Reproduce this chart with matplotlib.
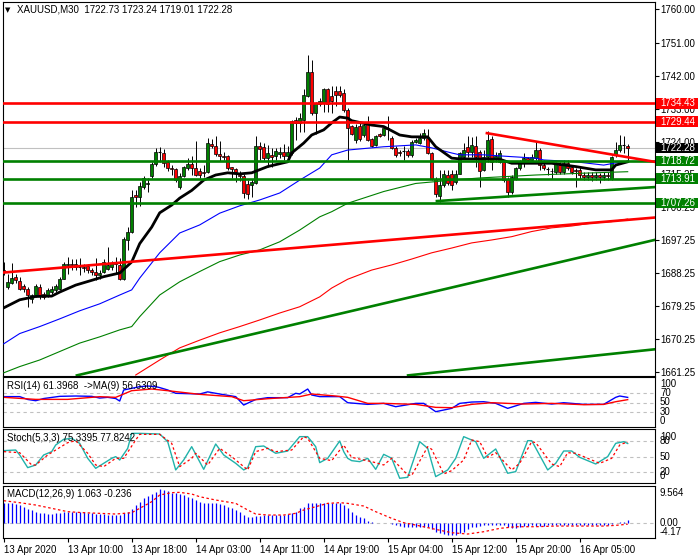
import matplotlib
matplotlib.use("Agg")
import matplotlib.pyplot as plt
from matplotlib.patches import Rectangle
from matplotlib.transforms import blended_transform_factory
import numpy as np

plt.rcParams['font.family'] = ['Liberation Sans', 'DejaVu Sans']

# ---- candles (M30 bars, index 0 = 13 Apr 2020 first bar) ----
opens = [
    1689.1, 1684.4, 1685.6, 1687.1, 1685.9, 1684.6, 1683.9, 1681.2, 1682.3, 1684.4,
    1682.5, 1682.1, 1683.1, 1683.5, 1683.9, 1686.7, 1690.4, 1690.6, 1690.6, 1689.9,
    1689.8, 1690.1, 1689.1, 1688.5, 1687.6, 1688.5, 1689.4, 1689.8, 1690.8, 1690.4,
    1686.7, 1697.2, 1699.5, 1709.4, 1709.0, 1711.7, 1712.4, 1714.5, 1717.9, 1721.2,
    1721.0, 1718.4, 1716.9, 1716.5, 1711.7, 1714.5, 1716.8, 1718.0, 1716.8, 1715.9,
    1715.7, 1715.6, 1723.4, 1722.8, 1720.7, 1720.0, 1720.0, 1717.0, 1716.5, 1715.0,
    1714.5, 1712.5, 1712.1, 1712.7, 1722.8, 1722.6, 1719.4, 1720.3, 1720.1, 1720.6,
    1721.3, 1720.2, 1720.8, 1729.9, 1729.0, 1729.9, 1736.5, 1742.9, 1731.7, 1734.2,
    1734.5, 1738.2, 1736.5, 1737.7, 1737.7, 1737.2, 1732.6, 1728.2, 1724.4, 1728.3,
    1725.9, 1728.8, 1724.7, 1723.1, 1726.0, 1725.9, 1727.6, 1724.9, 1722.2, 1721.3,
    1721.5, 1721.4, 1720.3, 1724.0, 1723.6, 1724.9, 1724.9, 1720.8, 1713.9, 1709.3,
    1712.1, 1714.9, 1715.3, 1713.0, 1715.3, 1719.9, 1722.6, 1721.3, 1722.8, 1721.3,
    1716.3, 1719.9, 1724.7, 1719.3, 1718.5, 1718.5, 1713.9, 1710.3, 1713.9, 1716.7,
    1718.5, 1719.4, 1719.0, 1719.5, 1721.7, 1717.6, 1716.5, 1716.1, 1715.8, 1717.6,
    1715.8, 1718.1, 1717.1, 1716.2, 1716.4, 1714.9, 1714.3, 1714.9, 1714.3, 1714.8,
    1714.3, 1714.8, 1713.9, 1720.4, 1721.7, 1723.1, 1722.73]
highs = [
    1691.1, 1688.0, 1690.8, 1688.0, 1687.1, 1685.1, 1684.4, 1682.6, 1685.1, 1685.3,
    1683.1, 1684.1, 1684.6, 1685.1, 1687.1, 1691.1, 1692.6, 1692.1, 1692.1, 1692.2,
    1690.6, 1690.6, 1689.6, 1692.2, 1689.1, 1692.1, 1695.4, 1691.6, 1692.6, 1692.2,
    1698.1, 1700.6, 1710.8, 1710.8, 1713.1, 1714.5, 1714.0, 1718.4, 1722.3, 1722.5,
    1722.0, 1719.1, 1717.7, 1716.8, 1715.4, 1717.4, 1719.5, 1720.0, 1724.1, 1716.8,
    1717.7, 1725.0, 1724.6, 1725.5, 1724.1, 1721.1, 1720.4, 1717.2, 1716.8, 1715.9,
    1715.3, 1713.5, 1713.9, 1725.4, 1724.0, 1723.6, 1723.1, 1722.3, 1722.3, 1722.5,
    1723.3, 1722.7, 1730.0, 1730.8, 1731.7, 1738.2, 1747.7, 1746.3, 1734.9, 1735.9,
    1738.6, 1738.7, 1739.1, 1739.1, 1739.1, 1738.2, 1733.1, 1728.5, 1728.7, 1729.2,
    1729.3, 1730.9, 1725.0, 1725.9, 1726.3, 1728.2, 1730.9, 1725.4, 1722.7, 1721.8,
    1722.7, 1721.9, 1724.5, 1724.9, 1726.3, 1727.4, 1727.3, 1721.3, 1714.4, 1716.2,
    1716.2, 1716.4, 1716.2, 1716.4, 1721.3, 1723.6, 1725.4, 1725.3, 1725.4, 1721.7,
    1721.7, 1726.8, 1725.4, 1721.3, 1721.7, 1719.0, 1714.4, 1714.9, 1717.1, 1719.0,
    1720.8, 1719.9, 1720.6, 1724.0, 1722.2, 1719.0, 1717.1, 1716.7, 1718.5, 1718.5,
    1719.0, 1719.0, 1717.6, 1716.7, 1717.1, 1715.8, 1715.8, 1715.8, 1715.8, 1715.5,
    1715.8, 1715.8, 1720.1, 1724.0, 1725.9, 1725.4, 1723.24]
lows = [
    1687.6, 1683.9, 1685.3, 1685.6, 1683.5, 1683.1, 1678.9, 1680.1, 1681.6, 1681.2,
    1681.1, 1681.6, 1682.6, 1683.1, 1683.6, 1686.6, 1688.0, 1689.1, 1689.1, 1687.6,
    1688.6, 1688.1, 1687.6, 1686.2, 1686.6, 1688.1, 1689.0, 1689.1, 1688.0, 1686.2,
    1686.2, 1694.6, 1699.0, 1706.2, 1706.4, 1711.2, 1710.4, 1714.0, 1717.4, 1718.4,
    1717.2, 1715.9, 1714.9, 1713.1, 1711.2, 1714.3, 1716.3, 1714.9, 1714.5, 1714.0,
    1714.3, 1715.4, 1722.3, 1720.0, 1718.6, 1719.1, 1716.3, 1714.0, 1713.1, 1713.4,
    1708.7, 1708.3, 1708.9, 1712.5, 1719.0, 1719.0, 1717.1, 1717.1, 1719.0, 1719.5,
    1719.0, 1718.5, 1720.3, 1724.5, 1726.7, 1726.7, 1736.2, 1731.3, 1726.2, 1733.6,
    1732.2, 1732.2, 1731.7, 1733.6, 1736.2, 1732.2, 1719.0, 1725.8, 1723.7, 1724.3,
    1725.3, 1724.3, 1722.6, 1722.7, 1725.3, 1725.4, 1724.5, 1721.9, 1719.9, 1720.2,
    1719.0, 1719.9, 1719.9, 1723.6, 1723.3, 1724.5, 1720.6, 1713.5, 1708.9, 1707.5,
    1711.6, 1712.1, 1710.7, 1712.5, 1715.1, 1719.4, 1719.9, 1719.9, 1717.2, 1711.6,
    1716.0, 1718.5, 1716.3, 1718.5, 1718.1, 1713.0, 1708.9, 1709.8, 1713.5, 1716.3,
    1717.1, 1718.5, 1718.3, 1719.0, 1716.3, 1716.3, 1714.9, 1713.9, 1715.3, 1715.3,
    1715.3, 1716.2, 1715.3, 1711.6, 1713.9, 1713.5, 1713.5, 1713.3, 1713.5, 1712.7,
    1713.5, 1713.6, 1713.5, 1719.9, 1721.3, 1720.8, 1719.01]
closes = [
    1688.6, 1685.8, 1686.9, 1686.2, 1683.9, 1683.9, 1682.1, 1682.1, 1684.6, 1682.1,
    1681.6, 1683.5, 1683.9, 1684.6, 1686.7, 1690.6, 1690.6, 1690.4, 1689.9, 1689.8,
    1689.6, 1689.0, 1688.5, 1687.6, 1688.3, 1691.3, 1690.4, 1690.8, 1690.6, 1686.7,
    1697.4, 1699.5, 1709.0, 1708.8, 1711.9, 1714.0, 1712.6, 1717.9, 1721.2, 1721.1,
    1718.2, 1716.8, 1716.5, 1713.6, 1714.7, 1717.0, 1718.0, 1716.8, 1715.0, 1715.0,
    1715.4, 1723.5, 1722.8, 1720.5, 1720.0, 1719.8, 1716.8, 1716.6, 1715.8, 1714.5,
    1710.0, 1709.8, 1713.0, 1722.8, 1721.9, 1719.4, 1720.8, 1719.8, 1721.5, 1721.1,
    1720.2, 1721.1, 1729.5, 1729.0, 1730.4, 1736.8, 1742.9, 1731.7, 1734.5, 1735.0,
    1738.2, 1734.2, 1735.0, 1736.8, 1736.8, 1732.7, 1727.6, 1726.2, 1728.1, 1724.8,
    1728.6, 1724.5, 1722.8, 1725.4, 1725.6, 1727.7, 1727.4, 1722.2, 1720.3, 1720.8,
    1721.4, 1720.3, 1724.0, 1724.5, 1725.1, 1726.3, 1720.8, 1713.9, 1709.8, 1712.1,
    1715.3, 1712.6, 1712.1, 1715.3, 1720.8, 1721.7, 1721.3, 1723.1, 1719.9, 1716.0,
    1719.9, 1724.5, 1718.5, 1720.2, 1720.8, 1713.5, 1710.3, 1714.4, 1716.7, 1718.1,
    1719.4, 1719.0, 1719.9, 1721.7, 1717.6, 1716.7, 1716.4, 1715.9, 1718.1, 1715.8,
    1718.1, 1716.7, 1715.8, 1715.9, 1714.9, 1714.3, 1714.9, 1714.3, 1714.8, 1714.3,
    1715.0, 1714.5, 1719.9, 1721.7, 1723.1, 1723.0, 1722.28]

# ---- moving averages (bar index, price) ----
ma_black_x = [0, 4, 8, 12, 14, 18, 22, 25, 29, 32, 34, 37, 39, 42, 44, 47, 50, 53, 56, 59,
              62, 66, 71, 72, 75, 77, 80, 82, 84, 86, 87, 92, 95, 99, 102, 106, 108, 112,
              114, 124, 127, 137, 143, 148, 152, 153, 156]
ma_black_y = [1678.7, 1680.9, 1681.8, 1681.9, 1683.0, 1684.9, 1686.2, 1687.2, 1688.2, 1691.2,
              1696.2, 1700.7, 1704.6, 1706.7, 1708.6, 1710.7, 1713.5, 1714.9, 1715.5, 1715.2,
              1715.5, 1717.2, 1718.5, 1720.9, 1723.6, 1725.8, 1727.2, 1729.1, 1730.7, 1730.4,
              1729.7, 1728.5, 1728.1, 1725.8, 1725.3, 1725.3, 1722.6, 1719.5, 1719.3, 1719.2,
              1718.1, 1718.1, 1717.2, 1716.3, 1716.3, 1717.6, 1718.5]
ma_blue_x = [0, 4, 9, 14, 19, 24, 29, 32, 34, 39, 44, 49, 54, 59, 64, 69, 74, 79, 82, 86,
             95, 103, 107, 112, 114, 120, 127, 133, 135, 143, 150, 153, 156]
ma_blue_y = [1668.9, 1671.7, 1673.6, 1675.7, 1677.9, 1679.8, 1682.2, 1683.6, 1686.8, 1693.7,
             1699.1, 1701.3, 1704.5, 1706.5, 1708.1, 1710.0, 1713.5, 1716.8, 1720.4, 1721.7,
             1722.6, 1723.1, 1722.3, 1720.9, 1720.4, 1720.4, 1719.9, 1719.5, 1719.0, 1718.5,
             1717.6, 1718.2, 1718.5]
ma_green_x = [0, 4, 9, 14, 19, 24, 29, 32, 34, 39, 44, 49, 54, 59, 64, 69, 74, 79, 82, 86,
              95, 103, 112, 119, 133, 145, 156]
ma_green_y = [1661.0, 1662.7, 1664.5, 1666.8, 1669.1, 1670.8, 1672.7, 1673.6, 1676.3, 1682.2,
              1685.8, 1688.6, 1691.3, 1693.1, 1694.5, 1696.7, 1699.9, 1703.5, 1704.9, 1707.2,
              1710.4, 1712.6, 1713.5, 1714.1, 1714.9, 1715.4, 1715.8]
ma_red_x = [33, 39, 44, 49, 54, 59, 64, 69, 74, 79, 82, 86, 92, 97, 102, 107, 112, 117,
            122, 127, 132, 137, 142, 147, 152, 156]
ma_red_y = [1660.4, 1664.5, 1667.8, 1669.9, 1671.9, 1673.6, 1675.4, 1677.3, 1679.0, 1681.7,
            1684.1, 1686.5, 1689.0, 1690.4, 1692.0, 1693.7, 1695.0, 1696.4, 1697.2, 1698.1,
            1699.5, 1700.5, 1701.0, 1701.8, 1702.2, 1702.9]

# ---- drawn objects ----
red_levels = [1734.43, 1729.44]
green_levels = [1718.72, 1713.91, 1707.26]
last_price = 1722.28
# trend lines: (bar0, price0, bar1, price1)
red_trends = [(-0.3, 1688.3, 162.7, 1703.3), (120.8, 1726.3, 162.7, 1718.5)]
green_trends = [(18.3, 1660.3, 162.7, 1697.2), (101.1, 1660.3, 162.7, 1667.4),
                (108.3, 1707.8, 162.7, 1711.6)]
price_ticks = [1760.00, 1751.00, 1742.00, 1733.00, 1724.00, 1715.25, 1706.25,
               1697.25, 1688.25, 1679.25, 1670.25, 1661.25]

# ---- RSI(14) and MA(9) ----
rsi_x = [0, 4, 6, 8, 10, 14, 18, 22, 24, 26, 28, 29, 30, 32, 34, 36, 38, 39, 41, 43, 49, 51,
         54, 58, 60, 63, 66, 71, 73, 74, 76, 77, 79, 84, 86, 91, 95, 98, 103, 105, 108, 112,
         114, 117, 120, 123, 126, 130, 133, 137, 140, 145, 150, 153, 154, 156]
rsi_y = [63, 63, 57, 54.4, 59, 63.6, 64.3, 63.6, 60, 61.5, 59, 53.7, 77, 80.4, 84, 85.3, 84,
         82, 77, 70, 68.5, 73, 68.5, 63, 45.3, 57, 60.8, 60.8, 70, 68.5, 79, 66.4, 63, 63,
         50.2, 46.7, 48.8, 41.8, 48.8, 48.8, 31.3, 38.3, 48.8, 51.6, 52.3, 48.8, 38.3, 48.8,
         50.9, 47.4, 50.2, 46.7, 46.7, 61.5, 64.3, 61.4]
rsi_ma_x = [0, 8, 16, 24, 28, 32, 37, 41, 49, 57, 60, 66, 74, 77, 83, 86, 91, 95, 103, 108,
            112, 117, 122, 130, 137, 145, 150, 153, 156]
rsi_ma_y = [61.5, 57.2, 57.2, 62.9, 61.5, 75.5, 79, 75.5, 67.8, 62.9, 54.4, 58.6, 62.9, 68.5,
            64.3, 61.5, 48.8, 48.8, 46.7, 40.4, 39.7, 46.7, 50.2, 47.4, 48.8, 46, 46.7, 52.3,
            56.63]

# ---- Stochastic(5,3,3) ----
sto_x = [0, 3, 4, 6, 8, 10, 12, 13, 15, 17, 19, 21, 23, 25, 27, 28, 29, 31, 32, 34, 39, 41,
         43, 45, 47, 50, 53, 55, 58, 60, 61, 63, 65, 68, 71, 74, 76, 78, 79, 81, 84, 85, 86,
         87, 89, 91, 93, 95, 97, 99, 101, 104, 106, 108, 111, 113, 115, 118, 120, 123, 126,
         128, 131, 132, 136, 138, 140, 142, 144, 148, 151, 153, 155, 156]
sto_y = [61.6, 62.8, 53.3, 29.0, 34.1, 53.3, 59.7, 72.4, 83.3, 85.2, 75.6, 46.9, 27.7, 37.3,
         46.9, 50.1, 43.7, 66.0, 94.7, 94.7, 93.5, 78.8, 24.6, 43.7, 69.2, 25.8, 74.3, 53.3,
         37.3, 24.6, 29.0, 69.2, 70.5, 56.5, 60.9, 88.4, 88.4, 69.2, 38.6, 46.9, 80.1, 59.7,
         46.9, 42.4, 40.5, 46.9, 25.8, 54.5, 46.9, 8.6, 10.5, 78.8, 66.0, 11.8, 24.6, 46.9,
         88.4, 78.8, 46.9, 64.8, 18.2, 21.4, 80.7, 80.7, 24.6, 37.3, 60.9, 60.9, 48.8, 36.0,
         50.1, 75.6, 78.8, 75.34]
sig_x = [0, 4, 7, 8, 11, 13, 16, 18, 21, 23, 25, 28, 30, 33, 34, 39, 42, 44, 47, 48, 51, 54,
         57, 61, 63, 66, 68, 72, 75, 76, 79, 82, 85, 86, 87, 90, 92, 95, 97, 101, 102, 106,
         107, 110, 112, 115, 117, 119, 121, 123, 127, 129, 132, 133, 137, 139, 141, 143, 147,
         149, 152, 154, 155, 156]
sig_y = [59.7, 57.7, 34.1, 34.1, 53.3, 62.8, 76.9, 80.7, 56.5, 34.1, 30.9, 46.9, 46.9, 82.0,
         92.8, 92.8, 75.6, 30.9, 46.9, 56.5, 34.1, 66.0, 50.1, 24.6, 59.7, 66.0, 59.7, 62.8,
         88.4, 85.2, 46.9, 42.4, 72.4, 59.7, 48.8, 43.7, 40.5, 34.1, 46.9, 15.0, 14.0, 69.2,
         64.1, 16.9, 23.3, 43.7, 82.0, 78.8, 48.8, 57.7, 24.6, 37.3, 78.8, 76.9, 36.0, 30.9,
         57.7, 56.5, 43.7, 37.3, 46.9, 72.4, 75.6, 77.82]

# ---- MACD(12,26,9): histogram per bar, signal readings ----
macd_hist = [
    5.63, 5.63, 5.63, 5.35, 5.16, 4.69, 3.94, 3.76, 3.29, 3.00,
    2.82, 2.63, 2.63, 2.82, 3.00, 3.29, 3.29, 3.29, 3.29, 3.29,
    3.29, 3.00, 2.82, 2.63, 2.63, 2.53, 2.44, 2.35, 2.35, 2.35,
    2.82, 3.29, 3.94, 5.16, 6.10, 7.04, 7.70, 8.26, 8.92, 9.56,
    9.45, 9.20, 8.64, 8.45, 8.26, 7.98, 7.50, 7.04, 6.57, 6.10,
    5.82, 5.82, 5.63, 5.63, 5.45, 5.16, 4.69, 4.23, 3.76, 3.29,
    2.35, 1.88, 1.88, 2.16, 2.16, 2.35, 2.35, 2.35, 2.35, 2.35,
    2.35, 2.63, 3.00, 3.29, 4.23, 4.69, 5.63, 5.63, 5.63, 5.63,
    5.63, 5.63, 5.63, 5.82, 5.63, 5.16, 4.23, 3.29, 2.35, 1.88,
    1.41, 0.75, 0.47, 0.19, 0.05, 0.02, 0.00, -0.19, -0.47, -0.75,
    -0.94, -0.94, -1.13, -1.13, -1.13, -1.13, -0.94, -1.69, -2.35, -2.82,
    -3.00, -3.29, -3.29, -3.29, -2.82, -2.35, -1.69, -1.13, -0.94, -0.75,
    -0.56, -0.47, -0.47, -0.47, -0.47, -0.56, -0.94, -1.41, -1.41, -0.94,
    -0.75, -0.75, -0.56, -0.75, -0.75, -0.75, -0.56, -0.56, -0.47, -0.47,
    -0.47, -0.47, -0.47, -0.47, -0.56, -0.56, -0.56, -0.56, -0.56, -0.56,
    -0.56, -0.47, -0.19, 0.00, 0.28, 0.47, 1.063]
macd_sig_x = [0, 4, 8, 12, 16, 20, 24, 28, 32, 34, 37, 39, 42, 44, 47, 49, 53, 58, 61, 63,
              66, 70, 73, 75, 78, 81, 84, 86, 90, 93, 97, 100, 103, 108, 112, 116, 120, 124,
              128, 133, 138, 145, 150, 153, 156]
macd_sig_y = [6.38, 5.82, 5.16, 4.23, 3.29, 3.00, 2.82, 2.63, 3.00, 4.23, 6.10, 7.98, 8.64,
              8.73, 8.26, 7.50, 6.57, 5.63, 3.76, 2.63, 2.35, 2.35, 2.82, 3.76, 4.69, 5.63,
              5.82, 5.63, 4.88, 3.29, 1.41, 0.19, -0.47, -1.69, -2.63, -3.00, -2.35, -1.41,
              -0.94, -0.94, -0.75, -0.75, -0.75, -0.56, -0.236]

time_bars = [0, 16, 32, 48, 64, 80, 96, 112, 128, 144]
time_labels = ["13 Apr 2020", "13 Apr 10:00", "13 Apr 18:00", "14 Apr 03:00",
               "14 Apr 11:00", "14 Apr 19:00", "15 Apr 04:00", "15 Apr 12:00",
               "15 Apr 20:00", "16 Apr 05:00"]

W, H = 700, 560
FS = 7


def box(x0, y0, x1, y1):
    # pixel box, top-left origin -> figure fraction
    return [x0 / W, 1 - y1 / H, (x1 - x0) / W, (y1 - y0) / H]


fig = plt.figure(figsize=(7, 5.6), dpi=100)
ax = fig.add_axes(box(2.5, 2, 654.5, 375.5))
ax_rsi = fig.add_axes(box(2.5, 377, 654.5, 426.7))
ax_sto = fig.add_axes(box(2.5, 429.3, 654.5, 483.3))
ax_macd = fig.add_axes(box(2.5, 485.7, 654.5, 538.3))

for a in (ax, ax_rsi, ax_sto, ax_macd):
    a.set_xlim(-0.3, 162.7)
    for s in a.spines.values():
        s.set_linewidth(0.8)
        s.set_color('black')
    a.set_xticks([])
    a.set_yticks([])

# main chart
ax.set_ylim(1660.27, 1762.04)
ax.axhline(last_price, color='#c0c0c0', lw=0.8, zorder=1)

idx = np.arange(len(opens))
ax.vlines(idx, lows, highs, color='black', lw=0.7, zorder=2)
for i in idx:
    o, c = opens[i], closes[i]
    lo, hi = min(o, c), max(o, c)
    if hi - lo < 0.15:
        ax.hlines(o, i - 0.4, i + 0.4, color='black', lw=0.8, zorder=2)
    else:
        col = '#008000' if c > o else '#ff0000'
        ax.add_patch(Rectangle((i - 0.4, lo), 0.8, hi - lo, facecolor=col,
                               edgecolor='black', lw=0.5, zorder=2.1))

ax.plot(ma_red_x, ma_red_y, color='#ff0000', lw=0.8, zorder=3)
ax.plot(ma_green_x, ma_green_y, color='#008000', lw=0.8, zorder=3)
ax.plot(ma_blue_x, ma_blue_y, color='#0000ff', lw=0.8, zorder=3)
ax.plot(ma_black_x, ma_black_y, color='black', lw=2.0, zorder=3.2)

for v in red_levels:
    ax.axhline(v, color='#ff0000', lw=1.9, zorder=4)
for v in green_levels:
    ax.axhline(v, color='#008000', lw=1.9, zorder=4)
for x0, y0, x1, y1 in red_trends:
    ax.plot([x0, x1], [y0, y1], color='#ff0000', lw=1.9, zorder=4)
for x0, y0, x1, y1 in green_trends:
    ax.plot([x0, x1], [y0, y1], color='#008000', lw=1.9, zorder=4)

ax.yaxis.tick_right()
ax.set_yticks(price_ticks)
ax.set_yticklabels([f"{t:.2f}" for t in price_ticks])
ax.tick_params(axis='y', length=3, width=0.8, pad=1.5, labelsize=FS, direction='out')

trans = blended_transform_factory(ax.transAxes, ax.transData)
axw = 652.0
boxes = [(v, '#ff0000') for v in red_levels] + [(last_price, 'black')] + \
        [(v, '#008000') for v in green_levels]
for v, col in boxes:
    ax.add_patch(Rectangle((1 + 1.5 / axw, v - 1.45), 41.5 / axw, 2.9, transform=trans,
                           facecolor=col, edgecolor='none', clip_on=False, zorder=6))
    ax.text(1 + 5.5 / axw, v, f"{v:.2f}", transform=trans, color='white', fontsize=FS,
            va='center', ha='left', zorder=7, clip_on=False)

fig.text(5 / W, 1 - 10 / H, '\u25bc', fontsize=5, va='center', family='DejaVu Sans')
fig.text(17 / W, 1 - 10 / H, 'XAUUSD,M30  1722.73 1723.24 1719.01 1722.28',
         fontsize=FS, va='center')

# RSI
ax_rsi.set_ylim(-0.3, 104.3)
for v in (70, 50, 30):
    ax_rsi.axhline(v, color='#c0c0c0', lw=0.8, ls=(0, (3, 3)))
ax_rsi.plot(rsi_x, rsi_y, color='#0000ff', lw=1.0)
ax_rsi.plot(rsi_ma_x, rsi_ma_y, color='#ff0000', lw=1.0)
fig.text(7 / W, 1 - 386 / H, 'RSI(14) 61.3968  ->MA(9) 56.6309', fontsize=FS, va='center')
for lab, yp in [('100', 384), ('70', 393.3), ('50', 402.3), ('30', 412), ('0', 420.7)]:
    fig.text(660 / W, 1 - yp / H, lab, fontsize=FS, va='center')

# Stochastic
ax_sto.set_ylim(-1.0, 102.5)
for v in (80, 50, 20):
    ax_sto.axhline(v, color='#c0c0c0', lw=0.8, ls=(0, (3, 3)))
ax_sto.plot(sto_x, sto_y, color='#20b2aa', lw=1.0)
ax_sto.plot(sig_x, sig_y, color='#ff0000', lw=0.9, ls=(0, (2, 2)))
fig.text(7 / W, 1 - 438 / H, 'Stoch(5,3,3) 75.3395 77.8242', fontsize=FS, va='center')
for lab, yp in [('100', 436.7), ('80', 441), ('50', 456.7), ('20', 472.3), ('0', 476)]:
    fig.text(660 / W, 1 - yp / H, lab, fontsize=FS, va='center')

# MACD
ax_macd.set_ylim(-4.2, 10.6)
ax_macd.axhline(0, color='#c0c0c0', lw=0.8, ls=(0, (3, 3)))
ax_macd.vlines(idx, 0, macd_hist, color='#0000ff', lw=0.9)
ax_macd.plot(macd_sig_x, macd_sig_y, color='#ff0000', lw=0.9, ls=(0, (2, 2)))
fig.text(7 / W, 1 - 494 / H, 'MACD(12,26,9) 1.063 -0.236', fontsize=FS, va='center')
for lab, yp in [('9.564', 493.3), ('0.00', 523.3), ('-4.17', 532.3)]:
    fig.text(660 / W, 1 - yp / H, lab, fontsize=FS, va='center')

ax_macd.set_xticks(time_bars)
ax_macd.set_xticklabels(time_labels, ha='left', fontsize=FS)
ax_macd.tick_params(axis='x', length=3, width=0.8, pad=1.5, direction='out')

fig.savefig('out.png', dpi=100, facecolor='white')
